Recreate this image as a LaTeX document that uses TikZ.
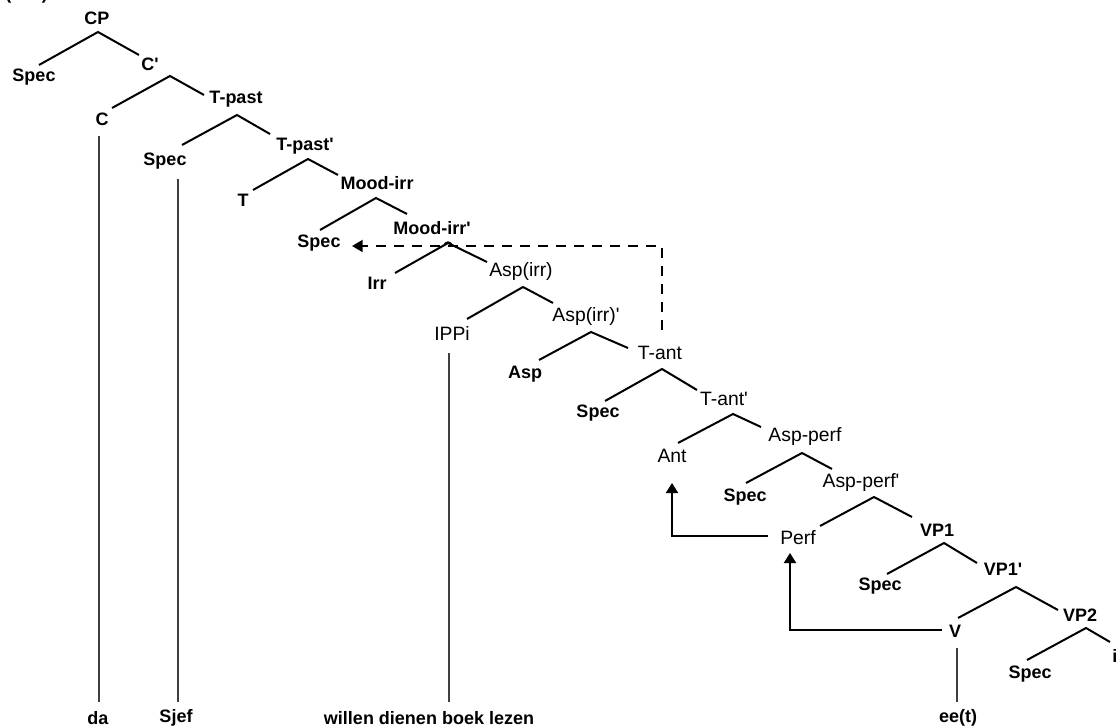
\documentclass[tikz,border=0pt]{standalone}
\usepackage{fontspec}
\newfontfamily\af{Liberation Sans}
\usetikzlibrary{arrows.meta}
\begin{document}
\begin{tikzpicture}[x=0.75pt,y=-0.75pt,
  lb/.style={font=\af\fontsize{13.5}{16}\selectfont\bfseries, inner sep=0pt},
  lr/.style={font=\af\fontsize{14.5}{17}\selectfont, inner sep=0pt},
  br/.style={line width=1.5pt},
  wl/.style={line width=0.8pt, draw=black!75},
  mv/.style={line width=1.5pt, -{Triangle[width=9pt,length=7.5pt]}},
  dmv/.style={line width=1.5pt, dash pattern=on 7.5pt off 6pt, -{Triangle[width=9pt,length=8pt]}}]
\useasboundingbox (0,0) rectangle (1116,727);
\fill[white] (0,0) rectangle (1116,727);
% clipped example number at the top edge
\node[lb, anchor=base west] (num) at (5,0) {(\hspace{23pt})};
% labels
\node[lb] (CP) at (97,18) {CP};
\node[lb] (Spec1) at (34,77) {Spec};
\node[lb] (Cb) at (150,64) {C'};
\node[lb] (C) at (102,119) {C};
\node[lb] (Tpast) at (236,99) {T-past};
\node[lb] (Spec2) at (165,161) {Spec};
\node[lb] (Tpastb) at (305,146) {T-past'};
\node[lb] (T) at (243,200) {T};
\node[lb] (Mood) at (377,183) {Mood-irr};
\node[lb] (Spec3) at (319,243) {Spec};
\node[lb] (Moodb) at (432,228) {Mood-irr'};
\node[lb] (Irr) at (377,283) {Irr};
\node[lr] (Aspirr) at (521,272) {Asp(irr)};
\node[lr] (IPPi) at (452,333) {IPPi};
\node[lr] (Aspirrb) at (586,316) {Asp(irr)'};
\node[lb] (Asp) at (525,374) {Asp};
\node[lr] (Tant) at (660,353) {T-ant};
\node[lb] (Spec4) at (598,413) {Spec};
\node[lr] (Tantb) at (724,399) {T-ant'};
\node[lr] (Ant) at (672,456) {Ant};
\node[lr] (Aspperf) at (805,437) {Asp-perf};
\node[lb] (Spec5) at (745,497) {Spec};
\node[lr] (Aspperfb) at (861,483) {Asp-perf'};
\node[lr] (Perf) at (798,538) {Perf};
\node[lb] (VPa) at (937,530) {VP1};
\node[lb] (Spec6) at (880,586) {Spec};
\node[lb] (VPab) at (1003,569) {VP1'};
\node[lb] (V) at (955,631) {V};
\node[lb] (VPb) at (1080,615) {VP2};
\node[lb] (Spec7) at (1030,674) {Spec};
\node[lb, anchor=west] (ii) at (1112,656) {i};
\node[lb] (da) at (98,718) {da};
\node[lb] (Sjef) at (176,718) {Sjef};
\node[lb] (willen) at (429,718) {willen dienen boek lezen};
\node[lb] (eet) at (958,718) {ee(t)};
% branch points (apex, left end, right end)
\foreach \n/\ax/\ay/\lx/\ly/\rx/\ry in {
  CP/98/32/39/65/139/55,
  Cb/170/76/112/108/204/95,
  Tpast/237/115/182/145/270/134,
  Tpastb/308/159/253/190/338/175,
  Mood/376/198/320/230/407/214,
  Moodb/448/243/395/273/487/262,
  Aspirr/523/287/467/319/553/303,
  Aspirrb/591/332/539/360/628/348,
  Tant/662/369/605/401/697/390,
  Tantb/733/414/678/443/761/427,
  Aspperf/802/453/746/483/832/469,
  Aspperfb/874/497/820/526/912/517,
  VPa/944/543/887/574/977/563,
  VPab/1016/587/958/618/1058/610,
  VPb/1086/628/1027/660/1110/642}{
  \coordinate (\n-a) at (\ax,\ay);
  \coordinate (\n-l) at (\lx,\ly);
  \coordinate (\n-r) at (\rx,\ry);
  \draw[br] (\n-l) -- (\n-a) -- (\n-r);
}
% lines down to the words
\coordinate (Cdown) at (99,136);
\coordinate (Sjefup) at (178,179);
\coordinate (IPPidown) at (449,353);
\coordinate (Vdown) at (957,648);
\draw[wl] (Cdown) -- (99,702) coordinate (daup);
\draw[wl] (Sjefup) -- (178,702) coordinate (Sjefup2);
\draw[wl] (IPPidown) -- (449,702) coordinate (willenup);
\draw[wl] (Vdown) -- (957,702) coordinate (eetup);
% movement arrows
\coordinate (PerfL) at (768,536);
\coordinate (AntB) at (672,483);
\coordinate (VL) at (942,630);
\coordinate (PerfB) at (790,553);
\coordinate (TantT) at (662,330);
\coordinate (SpecR) at (352,246);
\draw[mv] (PerfL) -| (AntB);
\draw[mv] (VL) -| (PerfB);
\draw[dmv] (TantT) |- (SpecR);
% line hop where the dashed line crosses the Mood-irr' branch
\draw[line width=1pt] (444,246) arc[start angle=180, end angle=360, radius=4];
\end{tikzpicture}
\end{document}
